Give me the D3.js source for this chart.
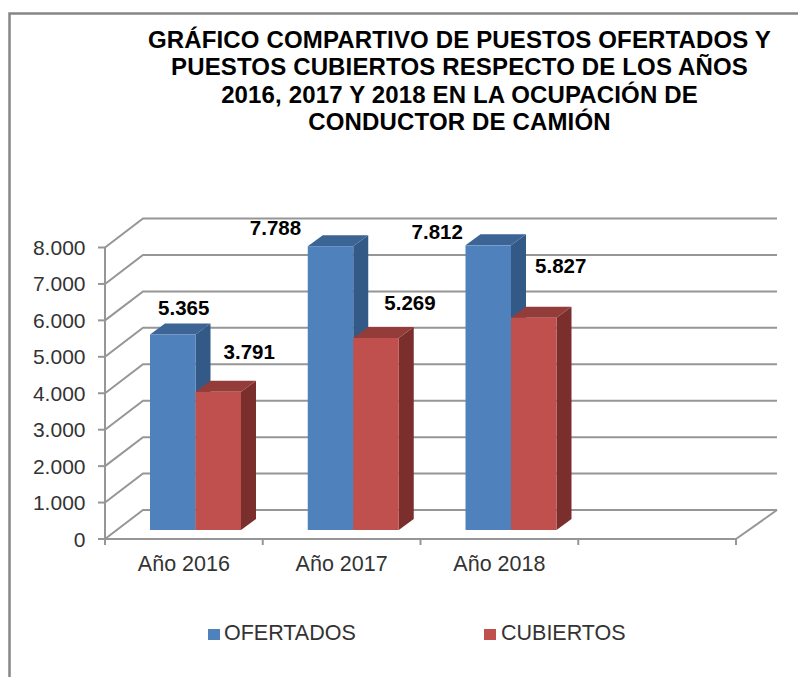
<!DOCTYPE html>
<html><head><meta charset="utf-8">
<script src="https://cdn.jsdelivr.net/npm/d3@7"></script>
<style>html,body{margin:0;padding:0;background:#fff}svg{display:block}text{font-family:"Liberation Sans",Arial,sans-serif}</style>
</head><body><div id="c"></div>
<script>
const categories = ["Año 2016","Año 2017","Año 2018",""];
const ofertados = [5365,7788,7812];
const cubiertos = [3791,5269,5827];
const yTicks = [0,1000,2000,3000,4000,5000,6000,7000,8000];
const seriesNames = ["OFERTADOS","CUBIERTOS"];
const titleLines = ["GRÁFICO COMPARTIVO DE PUESTOS OFERTADOS Y","PUESTOS CUBIERTOS RESPECTO DE LOS AÑOS","2016, 2017 Y 2018 EN LA OCUPACIÓN DE","CONDUCTOR DE CAMIÓN"];
const labelOffsets = [[[11,-20],[31,-33]],[[-55,-11],[34,-28]],[[-51,-6],[27,-45]]];

const W=798,H=677;
const svg=d3.select("#c").append("svg").attr("width",W).attr("height",H);
const grid="#969696";
const fmt=v=>d3.format(",")(v).replace(/,/g,".");
const x=d3.scaleBand().domain(categories).range([105,736]);
const y=d3.scaleLinear().domain([0,8000]).range([539,247.5]);
const depth={dx:38,dy:-29}, front={dx:12,dy:-9}, barD={dx:15,dy:-11}, barW=45.5;

// frame
svg.append("path").attr("d",`M9.5,${H} V13.5 H${W}`).attr("fill","none").attr("stroke","#868686").attr("stroke-width",2.5);

// gridlines: floor-to-wall
yTicks.forEach(t=>{
  svg.append("path").attr("fill","none").attr("stroke",grid).attr("stroke-width",2)
   .attr("d",`M${x.range()[0]},${y(t)} l${depth.dx},${depth.dy} H${x.range()[1]+depth.dx+3}`);
});
// floor right edge and front axis
svg.append("path").attr("fill","none").attr("stroke",grid).attr("stroke-width",2)
  .attr("d",`M${x.range()[1]},${y(0)} l${depth.dx+3},${depth.dy}`);
svg.append("line").attr("x1",105).attr("x2",105).attr("y1",y(8000)).attr("y2",y(0)+5).attr("stroke",grid).attr("stroke-width",2);
svg.append("line").attr("x1",98).attr("x2",x.range()[1]).attr("y1",y(0)).attr("y2",y(0)).attr("stroke",grid).attr("stroke-width",2);
yTicks.forEach(t=>svg.append("line").attr("x1",98).attr("x2",105).attr("y1",y(t)).attr("y2",y(t)).attr("stroke",grid).attr("stroke-width",2));
[...categories.map(c=>x(c)),x.range()[1]].forEach(v=>svg.append("line").attr("x1",v).attr("x2",v).attr("y1",y(0)).attr("y2",y(0)+6).attr("stroke",grid).attr("stroke-width",2));

// y labels
svg.append("g").selectAll("text").data(yTicks).join("text")
 .attr("x",85.5).attr("y",d=>y(d)+7.5).attr("text-anchor","end").attr("font-size",21).attr("fill","#333")
 .text(d=>d===0?"0":fmt(d));
// category labels
svg.append("g").selectAll("text").data(categories.slice(0,3)).join("text")
 .attr("x",d=>x(d)+x.bandwidth()/2).attr("y",571).attr("text-anchor","middle").attr("font-size",21.5).attr("fill","#333").text(d=>d);

// bars
const palette=[{f:"#4f81bd",s:"#335a87",t:"#3c6494"},{f:"#c0504d",s:"#7a2f2d",t:"#933c39"}];
function bar(px,val,c){
  const b=y(0)+front.dy, top=y(val)+front.dy;
  const g=svg.append("g");
  g.append("path").attr("fill",c.s).attr("d",`M${px+barW},${b} l${barD.dx},${barD.dy} V${top+barD.dy} l${-barD.dx},${-barD.dy} Z`);
  g.append("path").attr("fill",c.t).attr("d",`M${px},${top} l${barD.dx},${barD.dy} h${barW} l${-barD.dx},${-barD.dy} Z`);
  g.append("rect").attr("x",px).attr("y",top).attr("width",barW).attr("height",b-top).attr("fill",c.f);
}
categories.slice(0,3).forEach((c,i)=>{
  const x0=x(c)+45;
  bar(x0,ofertados[i],palette[0]);
  bar(x0+barW,cubiertos[i],palette[1]);
  [ofertados[i],cubiertos[i]].forEach((v,k)=>{
    const [ox,oy]=labelOffsets[i][k];
    svg.append("text").attr("x",x0+barW*k+barW/2+ox).attr("y",y(v)+front.dy+oy).attr("text-anchor","middle")
      .attr("font-size",20.5).attr("font-weight","bold").attr("fill","#000").text(fmt(v));
  });
});

// title
svg.append("g").selectAll("text").data(titleLines).join("text")
 .attr("x",459.5).attr("y",(d,i)=>47.5+i*27.5).attr("text-anchor","middle").attr("font-size",24).attr("font-weight","bold").attr("letter-spacing",0.15).attr("fill","#000").text(d=>d);

// legend
const lx=[208,484], tx=[224,501];
seriesNames.forEach((n,i)=>{
  svg.append("rect").attr("x",lx[i]).attr("y",629).attr("width",12).attr("height",11).attr("fill",palette[i].f);
  svg.append("text").attr("x",tx[i]).attr("y",640).attr("font-size",21.5).attr("fill","#333").text(n);
});
</script></body></html>
